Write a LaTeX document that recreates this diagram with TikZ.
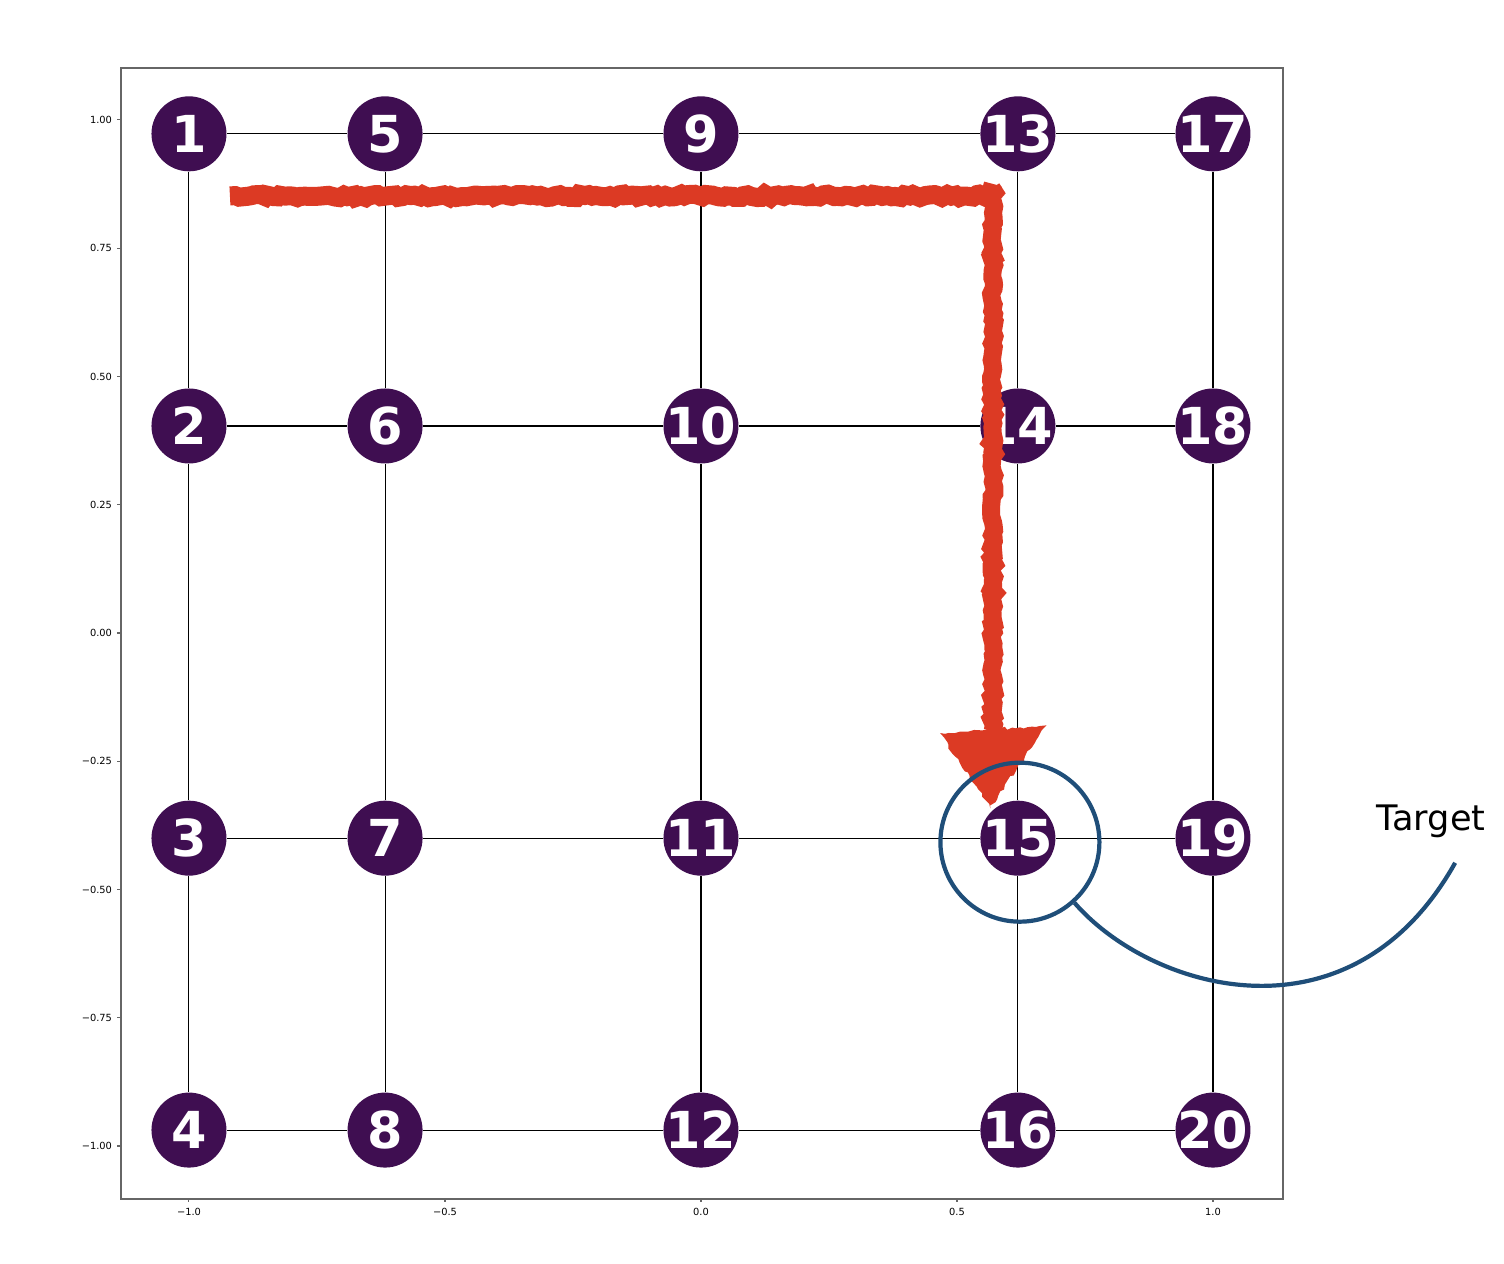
\documentclass[tikz,border=0pt]{standalone}
\usepackage{fontspec}
\setmainfont{DejaVu Sans}
\usetikzlibrary{decorations.pathmorphing}
\definecolor{vertexpurple}{RGB}{63,14,81}
\definecolor{pathred}{RGB}{220,58,36}
\definecolor{targetblue}{RGB}{31,78,121}

\begin{document}
\begin{tikzpicture}[x=5.12cm, y=5.13cm,
	vertex/.style={circle, fill=vertexpurple, inner sep=-4pt, minimum size=0.75cm, text=white, font=\bfseries\fontsize{14.5}{15}\selectfont},
	edge/.style={line width=0.3pt},
	ticklabel/.style={inner sep=0pt, font=\fontsize{2.8}{3.2}\selectfont},
	rough/.style={decorate, decoration={random steps, segment length=1.2pt, amplitude=0.5pt}}]
			\useasboundingbox (-1.3691,-1.2300) rectangle (1.5684,1.2339);
			
			% axes
			\draw[black!60, line width=0.4pt] (-1.133,-1.103) rectangle (1.137,1.101);
			\foreach \v/\t in {1/1.00, 0.75/0.75, 0.5/0.50, 0.25/0.25, 0/0.00, -0.25/−0.25, -0.5/−0.50, -0.75/−0.75, -1/−1.00} {
				\draw[black!60, line width=0.3pt] (-1.133,\v) -- ++(-0.035cm,0);
				\node[ticklabel, anchor=east] at (-1.149,\v) {\t};
			}
			\foreach \v/\t in {-1/−1.0, -0.5/−0.5, 0/0.0, 0.5/0.5, 1/1.0} {
				\draw[black!60, line width=0.3pt] (\v,-1.103) -- ++(0,-0.035cm);
				\node[ticklabel, anchor=north] at (\v,-1.119) {\t};
			}
			
			\node[vertex] (1) at (-1,0.973) {1};
			\node[vertex] (2) at (-1,0.4035) {2};
			\node[vertex] (3) at (-1,-0.400) {3};
			\node[vertex] (4) at (-1,-0.969) {4};
			\node[vertex] (5) at (-0.617,0.973) {5};
			\node[vertex] (6) at (-0.617,0.4035) {6};
			\node[vertex] (7) at (-0.617,-0.400) {7};
			\node[vertex] (8) at (-0.617,-0.969) {8};
			\node[vertex] (9) at (0,0.973) {9};
			\node[vertex] (10) at (0,0.4035) {10};
			\node[vertex] (11) at (0,-0.400) {11};
			\node[vertex] (12) at (0,-0.969) {12};
			\node[vertex] (13) at (0.619,0.973) {13};
			\node[vertex] (14) at (0.619,0.4035) {14};
			\node[vertex] (15) at (0.619,-0.400) {15};
			\node[vertex] (16) at (0.619,-0.969) {16};
			\node[vertex] (17) at (1,0.973) {17};
			\node[vertex] (18) at (1,0.4035) {18};
			\node[vertex] (19) at (1,-0.400) {19};
			\node[vertex] (20) at (1,-0.969) {20};
			
			\draw[edge] (1) -- (5) -- (9) -- (13) -- (17);
			\draw[edge] (2) -- (6) -- (10) -- (14) -- (18);
			\draw[edge] (3) -- (7) -- (11) -- (15) -- (19);
			\draw[edge] (4) -- (8) -- (12) -- (16) -- (20);
			\draw[edge] (1) -- (2) -- (3) -- (4);
			\draw[edge] (5) -- (6) -- (7) -- (8);
			\draw[edge] (9) -- (10) -- (11) -- (12);
			\draw[edge] (13) -- (14) -- (15) -- (16);
			\draw[edge] (17) -- (18) -- (19) -- (20);
			
			% hand drawn route
			\coordinate (routestart) at (-0.920,0.852);
			\coordinate (routecorner) at (0.570,0.852);
			\coordinate (routeend) at (0.570,-0.190);
			\draw[pathred, line width=0.19cm, rough] (routestart) -- (routecorner);
			\draw[pathred, line width=0.18cm, rough] ([yshift=0.12cm]routecorner) -- (routeend);
			\fill[pathred, rough] (0.467,-0.195) -- (0.675,-0.180) -- (0.565,-0.342) -- cycle;
			
			% target marker
			\node[draw=targetblue, line width=1.2pt, circle, minimum size=1.59cm, inner sep=0pt] (target) at ([xshift=0.02cm,yshift=-0.04cm]15) {};
			\coordinate (tail) at (1.473,-0.448);
			\draw[targetblue, line width=1.2pt] (target.-48) .. controls (0.877,-0.696) and (1.268,-0.813) .. (tail);
			\node[font=\fontsize{10}{12}\selectfont] (targetlabel) at (1.426,-0.368) {Target};
		\end{tikzpicture}
\end{document}
